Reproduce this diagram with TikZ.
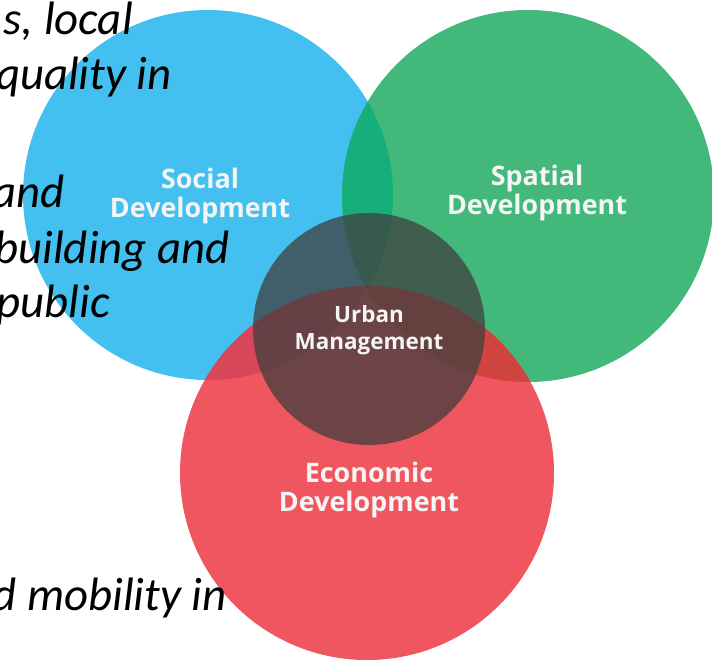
\documentclass[tikz,border=0pt]{standalone}
\usepackage{xcolor}
\usepackage{fontspec}
\usepackage{tikz}
\newfontfamily\vennfont{Open Sans}
\newfontfamily\notefont{Carlito}
\definecolor{socialblue}{RGB}{67,191,240}
\definecolor{spatialgreen}{RGB}{66,185,123}
\definecolor{econred}{RGB}{240,86,95}
\definecolor{bluegreen}{RGB}{22,174,122}
\definecolor{bluered}{RGB}{215,70,89}
\definecolor{greenred}{RGB}{208,68,63}
\definecolor{allthree}{RGB}{200,62,62}
\definecolor{urbandark}{RGB}{65,63,62}

\begin{document}
\begin{tikzpicture}[x=1bp, y=-1bp,
  venn/.style={font={\vennfont\bfseries\fontsize{27}{30}\selectfont}, text=white!96!black, align=center, inner sep=0pt},
  vennsmall/.style={font={\vennfont\bfseries\fontsize{22.5}{27}\selectfont}, text=white!96!black, align=center, inner sep=0pt},
  note/.style={font={\notefont\itshape\fontsize{47}{56}\selectfont}, text=black, inner sep=0pt, anchor=base east}]
  \useasboundingbox (0,0) rectangle (712,662);
  \fill[white] (0,0) rectangle (712,662);
  % circle centres
  \coordinate (socialc) at (208,195);
  \coordinate (spatialc) at (528,196);
  \coordinate (econc) at (367,473);
  \coordinate (urbanc) at (369,329);
  % the three development circles
  \fill[socialblue] (socialc) circle (185bp);
  \fill[spatialgreen] (spatialc) circle (186bp);
  \fill[econred] (econc) circle (187bp);
  \begin{scope}
    \clip (socialc) circle (185bp);
    \fill[bluegreen] (spatialc) circle (186bp);
    \fill[bluered] (econc) circle (187bp);
  \end{scope}
  \begin{scope}
    \clip (spatialc) circle (186bp);
    \fill[greenred] (econc) circle (187bp);
  \end{scope}
  \begin{scope}
    \clip (socialc) circle (185bp);
    \clip (spatialc) circle (186bp);
    \fill[allthree] (econc) circle (187bp);
  \end{scope}
  % urban management on top
  \fill[urbandark, fill opacity=0.75] (urbanc) circle (116bp);
  \node[venn] (social) at (200,196) {Social\\Development};
  \node[venn] (spatial) at (537,193) {Spatial\\Development};
  \node[venn] (econ) at (369,490) {Economic\\Development};
  \node[vennsmall] (urban) at (369,330) {Urban\\Management};
  % text running in from the left
  \node[note] (lineA) at (133,35) {s, local};
  \node[note] (lineB) at (172,90) {quality in};
  \node[note] (lineC) at (65,207) {and};
  \node[note] (lineD) at (230,263) {building and};
  \node[note] (lineE) at (110,317) {public};
  \node[note] (lineF) at (227,610) {d mobility in};
\end{tikzpicture}
\end{document}
